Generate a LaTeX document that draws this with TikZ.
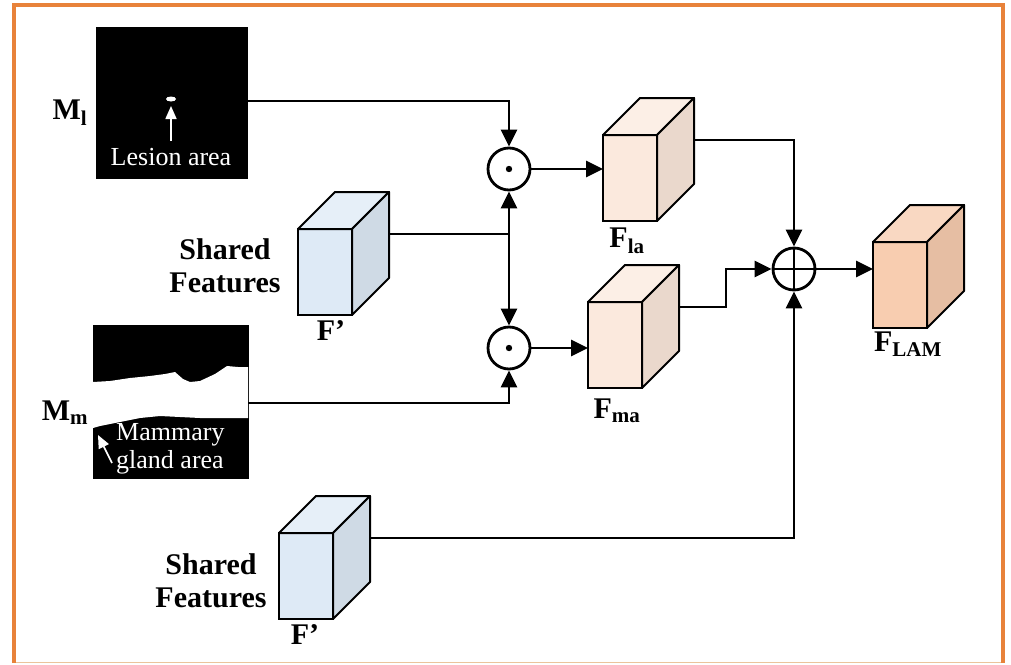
\documentclass[tikz,border=0pt]{standalone}
\usepackage{fontspec}
\setmainfont{Liberation Serif}
\usetikzlibrary{arrows.meta,calc}
\definecolor{frameorange}{HTML}{E8823A}
\definecolor{framelight}{HTML}{EBC49C}
\definecolor{peachfront}{HTML}{FBE9DD}
\definecolor{peachside}{HTML}{EAD8CC}
\definecolor{peachtop}{HTML}{FCEFE6}
\definecolor{lamfront}{HTML}{F8CDB0}
\definecolor{lamside}{HTML}{E6BEA3}
\definecolor{lamtop}{HTML}{F9D8C2}
\definecolor{bluefront}{HTML}{DEEAF6}
\definecolor{blueside}{HTML}{CFDAE5}
\definecolor{bluetop}{HTML}{E6EFF8}
\tikzset{
  conn/.style={line width=2.8pt, black},
  arr/.style={conn, -{Triangle[length=17pt,width=16pt]}},
  opnode/.style={circle, draw, line width=2.8pt, minimum size=42pt, inner sep=0pt, fill=white},
  cubefront/.style={draw, line width=2pt, minimum width=54pt, minimum height=86pt, inner sep=0pt, outer sep=0pt, anchor=north west},
  cubeface/.style={draw, line width=2pt, line join=round},
  lbl/.style={font=\fontsize{30}{33}\selectfont\bfseries, inner sep=0pt},
  masktext/.style={font=\fontsize{26}{28}\selectfont, text=white, inner sep=0pt},
  maskbox/.style={fill=black, draw=black, inner sep=0pt, outer sep=0pt},
  whitearr/.style={white, line width=1.6pt, -{Triangle[length=13pt,width=11pt]}}
}
\newcommand{\cubeat}[6]{%
  \node[cubefront, fill=#4] (#1) at (#2,#3) {};
  \draw[cubeface, fill=#6] (#1.north west) -- ++(37,-37) -- ++(54,0) -- (#1.north east) -- cycle;
  \draw[cubeface, fill=#5] (#1.north east) -- ++(37,-37) -- ++(0,86) -- (#1.south east) -- cycle;
  \coordinate (#1-out) at ($(#1.north east)+(37,5)$);
}
\begin{document}
\begin{tikzpicture}[x=1pt,y=-1pt]
\useasboundingbox (0,0) rectangle (1011,664);
\draw[framelight, line width=1.2pt] (14,662.5) -- (1003,662.5);
\draw[frameorange, line width=3.2pt] (14,663) -- (14,5) -- (1003,5) -- (1003,663);

% lesion mask
\node[maskbox, minimum width=151pt, minimum height=151pt] (ml) at (171.5,102.5) {};
\fill[white] (171,99) ellipse (5pt and 2.5pt);
\coordinate (mltail) at (171,141);
\coordinate (mltip) at (171,106);
\draw[whitearr] (mltail) -- (mltip);
\node[masktext] (lesiontxt) at (171,157) {Lesion area};
\node[lbl] (mllbl) at (70,113) {M\textsubscript{l}};

% mammary mask
\node[maskbox, minimum width=155pt, minimum height=153pt] (mm) at (170.5,401.5) {};
\fill[white] (93,382) -- (110,381) -- (130,378) -- (150,376) -- (165,374) -- (175,372) -- (183,379) -- (190,382) -- (200,381) -- (215,374) -- (227,366) -- (238,367) -- (248,367)
  -- (248,418) -- (230,418) -- (200,418) -- (180,417) -- (160,416) -- (140,418) -- (120,422) -- (100,426) -- (93,428) -- cycle;
\coordinate (mmtail) at (112,463);
\coordinate (mmtip) at (98,435);
\draw[whitearr] (mmtail) -- (mmtip);
\node[masktext, align=left, anchor=north west] (mmtxt) at (116,423) {Mammary\\gland area};
\node[lbl] (mmlbl) at (65,413) {M\textsubscript{m}};

% cubes
\cubeat{s1}{298}{229}{bluefront}{blueside}{bluetop}
\cubeat{s2}{279}{533}{bluefront}{blueside}{bluetop}
\cubeat{fla}{603}{135}{peachfront}{peachside}{peachtop}
\cubeat{fma}{588}{302}{peachfront}{peachside}{peachtop}
\cubeat{flam}{873}{242}{lamfront}{lamside}{lamtop}

\node[lbl, align=center] (sf1) at (225,266) {Shared\\Features};
\node[lbl] (fp1) at (331,331) {F’};
\node[lbl, align=center] (sf2) at (211,581) {Shared\\Features};
\node[lbl] (fp2) at (305,635) {F’};
\node[lbl] (flalbl) at (627,241) {F\textsubscript{la}};
\node[lbl] (fmalbl) at (617,411) {F\textsubscript{ma}};
\node[lbl] (flamlbl) at (908,344) {F\textsubscript{LAM}};

% operators
\node[opnode] (od1) at (509,169) {};
\fill (od1.center) circle (3.2pt);
\node[opnode] (od2) at (509,348) {};
\fill (od2.center) circle (3.2pt);
\node[opnode] (op) at (794,269) {};
\draw[line width=2.8pt] (op.north) -- (op.south) (op.west) -- (op.east);

% connectors
\draw[arr] (ml.east |- 0,101) -| (od1.north);
\coordinate (j) at (od1 |- s1-out);
\draw[conn] (s1-out) -- (j);
\draw[arr] (j) -- (od1.south);
\draw[arr] (j) -- (od2.north);
\draw[arr] (mm.east |- 0,403) -| (od2.south);
\draw[arr] (od1.east) -- (od1 -| fla.west);
\draw[arr] (od2.east) -- (od2 -| fma.west);
\draw[arr] (fla-out) -| (op.north);
\coordinate (step) at (726,307);
\draw[arr] (fma-out) -- (step) |- (op.west);
\draw[arr] (s2-out) -| (op.south);
\draw[arr] (op.east) -- (op -| flam.west);
\end{tikzpicture}
\end{document}
